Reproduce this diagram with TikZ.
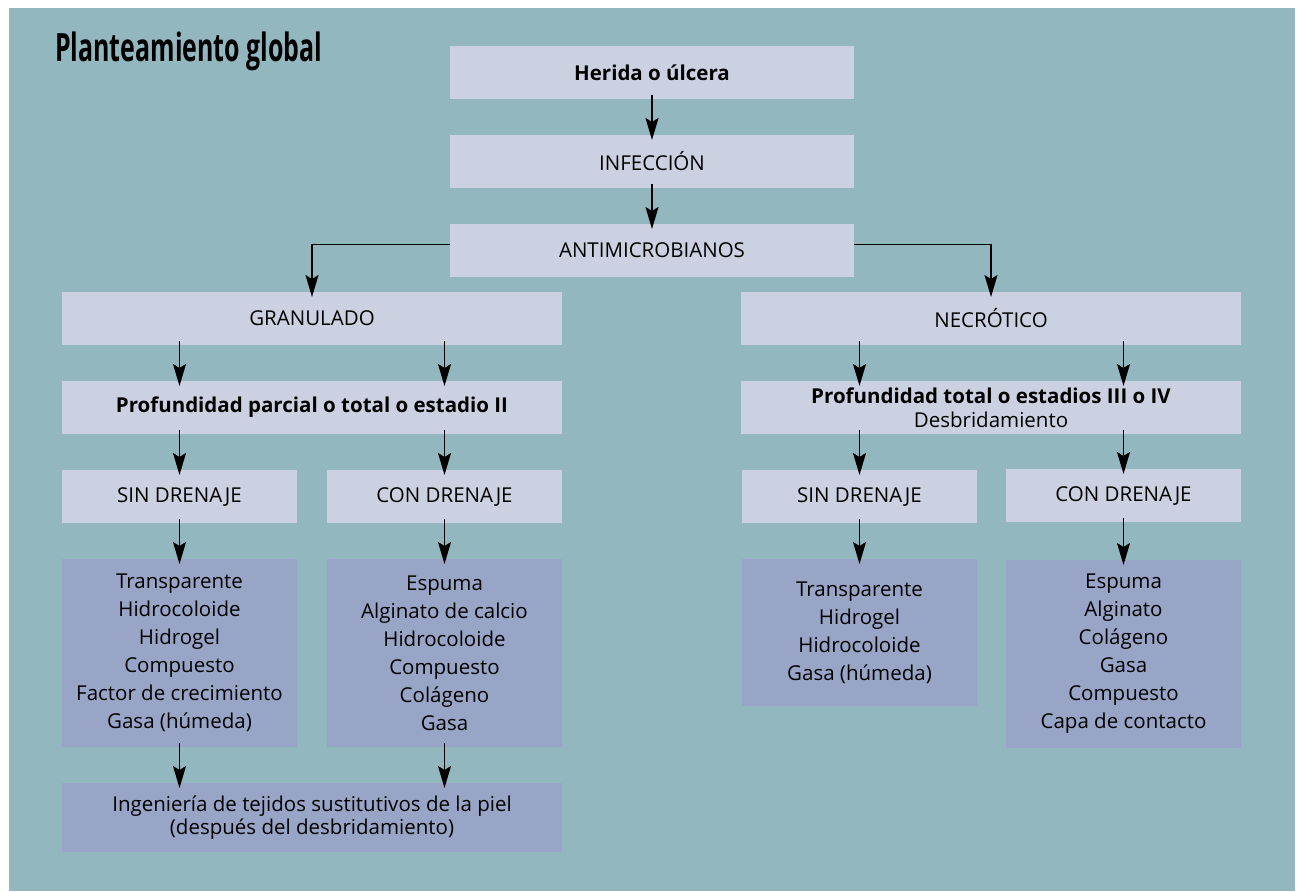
\documentclass[tikz,border=0pt]{standalone}
\usepackage{fontspec}
\setmainfont{Open Sans}
\usepackage{graphicx}
\usetikzlibrary{arrows.meta}
\definecolor{bg}{RGB}{147,183,191}
\definecolor{lightbox}{RGB}{204,209,226}
\definecolor{darkbox}{RGB}{152,165,199}
\tikzset{
  lbox/.style={fill=lightbox, draw=none, inner sep=0pt, outer sep=0pt, anchor=north west,
    align=center, font=\fontsize{20.5}{24}\selectfont},
  dbox/.style={lbox, fill=darkbox, font=\fontsize{20.5}{28}\selectfont},
  arr/.style={-{Stealth[length=22pt,width=13pt,inset=4pt]}, line width=1.7pt, shorten >=-5pt},
  varr/.style={arr, shorten <=-4pt},
}
\begin{document}
\begin{tikzpicture}[x=1pt,y=-1pt]
\useasboundingbox (0,0) rectangle (1297,891);
\fill[bg] (9,8) rectangle (1295,891);
\node[anchor=base west, inner sep=0pt] (title) at (55,62)
  {\resizebox{267pt}{\height}{\bfseries\fontsize{39}{39}\selectfont Planteamiento global}};

% top chain
\node[lbox, minimum width=404pt, minimum height=53pt] (her) at (450,46) {\bfseries Herida o úlcera};
\node[lbox, minimum width=404pt, minimum height=53pt] (inf) at (450,135) {INFECCIÓN};
\node[lbox, minimum width=404pt, minimum height=53pt] (ant) at (450,224) {ANTIMICROBIANOS};

% left branch
\node[lbox, minimum width=500pt, minimum height=53pt] (gran) at (62,292) {GRANULADO};
\node[lbox, minimum width=500pt, minimum height=53pt] (profl) at (62,381) {\bfseries Profundidad parcial o total o estadio II};
\node[lbox, minimum width=235pt, minimum height=53pt] (sinl) at (62,470) {SIN DRENAJE};
\node[lbox, minimum width=235pt, minimum height=53pt] (conl) at (327,470) {CON DRENAJE};
\node[dbox, minimum width=235pt, minimum height=188pt] (listl1) at (62,559)
  {Transparente\\Hidrocoloide\\Hidrogel\\Compuesto\\Factor de crecimiento\\Gasa (húmeda)};
\node[dbox, minimum width=235pt, minimum height=188pt] (listl2) at (327,559)
  {Espuma\\Alginato de calcio\\Hidrocoloide\\Compuesto\\Colágeno\\Gasa};
\node[dbox, minimum width=500pt, minimum height=69pt, font=\fontsize{20.5}{23}\selectfont] (ing) at (62,783)
  {Ingeniería de tejidos sustitutivos de la piel\\(después del desbridamiento)};

% right branch
\node[lbox, minimum width=500pt, minimum height=53pt] (necro) at (741,292) {NECRÓTICO};
\node[lbox, minimum width=500pt, minimum height=53pt] (profr) at (741,381)
  {\bfseries Profundidad total o estadios III o IV\\Desbridamiento};
\node[lbox, minimum width=235pt, minimum height=53pt] (sinr) at (742,470) {SIN DRENAJE};
\node[lbox, minimum width=235pt, minimum height=53pt] (conr) at (1006,469) {CON DRENAJE};
\node[dbox, minimum width=235pt, minimum height=147pt] (listr1) at (742,559)
  {Transparente\\Hidrogel\\Hidrocoloide\\Gasa (húmeda)};
\node[dbox, minimum width=235pt, minimum height=188pt] (listr2) at (1006,560)
  {Espuma\\Alginato\\Colágeno\\Gasa\\Compuesto\\Capa de contacto};

% arrows
\draw[varr] (her.south) -- (inf.north);
\draw[varr] (inf.south) -- (ant.north);
\draw[arr] ([yshift=6pt]ant.west) -| (gran.north);
\draw[arr] ([yshift=6pt]ant.east) -| (necro.north);

\draw[varr] (gran.south -| sinl.south) -- (profl.north -| sinl.north);
\draw[varr] (gran.south -| conl.south) -- (profl.north -| conl.north);
\draw[varr] (profl.south -| sinl.north) -- (sinl.north);
\draw[varr] (profl.south -| conl.north) -- (conl.north);
\draw[varr] (sinl.south) -- (listl1.north);
\draw[varr] (conl.south) -- (listl2.north);
\draw[varr] (listl1.south) -- (ing.north -| listl1.south);
\draw[varr] (listl2.south) -- (ing.north -| listl2.south);

\draw[varr] (necro.south -| sinr.south) -- (profr.north -| sinr.north);
\draw[varr] (necro.south -| conr.south) -- (profr.north -| conr.north);
\draw[varr] (profr.south -| sinr.north) -- (sinr.north);
\draw[varr] (profr.south -| conr.north) -- (conr.north);
\draw[varr] (sinr.south) -- (listr1.north);
\draw[varr] (conr.south) -- (listr2.north);
\end{tikzpicture}
\end{document}
